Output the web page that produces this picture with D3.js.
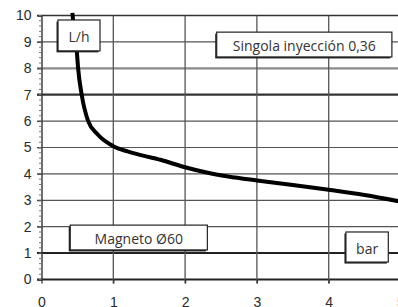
<!DOCTYPE html>
<html><head><meta charset="utf-8">
<script src="https://cdn.jsdelivr.net/npm/d3@7"></script>
<style>html,body{margin:0;padding:0;background:#fff;overflow:hidden}</style>
</head><body><svg id="c" width="398" height="307"></svg>
<script>
const pressure = [0.43, 0.46, 0.49, 0.51, 0.56, 0.65, 0.78, 1.0, 1.2, 1.4, 1.7, 2.0, 2.3, 2.6, 3.0, 3.5, 4.0, 4.5, 5.0];
const flow     = [10.1, 9.3, 8.7, 8.0, 7.0, 6.0, 5.5, 5.05, 4.85, 4.7, 4.5, 4.25, 4.05, 3.9, 3.75, 3.58, 3.4, 3.2, 2.95];
const xTicks = [0, 1, 2, 3, 4, 5];
const yTicks = [0, 1, 2, 3, 4, 5, 6, 7, 8, 9, 10];
const yMinor = d3.range(0, 10.01, 0.2);
const labelTexts = ["L/h", "Singola inyección 0,36", "Magneto Ø60", "bar"];
// box extents in data units: [x0, x1, yTop, yBottom]
const labelBoxes = [
  [0.23, 0.815, 9.83, 8.66],
  [2.44, 4.88, 9.37, 8.43],
  [0.40, 2.31, 2.06, 1.12],
  [4.24, 4.83, 1.80, 0.66]
];

const svg = d3.select("#c");
const x = d3.scaleLinear().domain([0, 5]).range([41.5, 400.5]);
const y = d3.scaleLinear().domain([0, 10]).range([279.5, 15.5]);

// horizontal grid
const strong = {10: ["#333", 1.6], 8: ["#8a8a8a", 2.2], 7: ["#333", 2.2], 1: ["#222", 2], 0: ["#222", 1.8]};
svg.append("g").selectAll("line").data(yTicks).join("line")
  .attr("x1", 37).attr("x2", 398)
  .attr("y1", d => y(d)).attr("y2", d => y(d))
  .attr("stroke", d => strong[d] ? strong[d][0] : "#555")
  .attr("stroke-width", d => strong[d] ? strong[d][1] : 1.2);

// vertical grid
svg.append("g").selectAll("line").data(xTicks.filter(d => d > 0)).join("line")
  .attr("x1", d => x(d)).attr("x2", d => x(d))
  .attr("y1", y(10)).attr("y2", y(0) + 4)
  .attr("stroke", "#555").attr("stroke-width", 1.3);

// y axis
const ya = svg.append("g").attr("transform", `translate(${x(0)},0)`)
  .call(d3.axisLeft(y).tickValues(yTicks).tickSize(4).tickPadding(6).tickFormat(d3.format("d")));
ya.select(".domain").attr("stroke", "#333").attr("stroke-width", 1.4);
ya.selectAll(".tick line").attr("stroke", "#333");
ya.selectAll("text").attr("font-family", "Liberation Sans, Arial, sans-serif").attr("font-size", 14).attr("fill", "#2a2a2a");
svg.append("g").selectAll("line").data(yMinor).join("line")
  .attr("x1", x(0) - 2.5).attr("x2", x(0))
  .attr("y1", d => y(d)).attr("y2", d => y(d))
  .attr("stroke", "#777").attr("stroke-width", 1);

// x axis
const xa = svg.append("g").attr("transform", `translate(0,${y(0)})`)
  .call(d3.axisBottom(x).tickValues(xTicks).tickSize(4).tickPadding(14).tickFormat(d3.format("d")));
xa.select(".domain").remove();
xa.selectAll(".tick line").attr("stroke", "#333").attr("stroke-width", 1.3);
xa.selectAll("text").attr("font-family", "Liberation Sans, Arial, sans-serif").attr("font-size", 14).attr("fill", "#2a2a2a");

// curve
const pts = pressure.map((p, i) => [p, flow[i]]);
svg.append("path").datum(pts)
  .attr("fill", "none").attr("stroke", "#000").attr("stroke-width", 4)
  .attr("stroke-linejoin", "round")
  .attr("d", d3.line().x(d => x(d[0])).y(d => y(d[1])).curve(d3.curveMonotoneX));

// annotation boxes
const boxes = svg.append("g").selectAll("g").data(labelTexts).join("g");
boxes.each(function(txt, i) {
  const g = d3.select(this);
  const [bx0, bx1, byt, byb] = labelBoxes[i];
  const X0 = x(bx0), X1 = x(bx1), Y0 = y(byt), Y1 = y(byb);
  g.append("rect").attr("x", X0 - 1.5).attr("y", Y0 + 1.5)
    .attr("width", X1 - X0).attr("height", Y1 - Y0).attr("fill", "#222");
  g.append("rect").attr("x", X0).attr("y", Y0)
    .attr("width", X1 - X0).attr("height", Y1 - Y0)
    .attr("fill", "#fff").attr("stroke", "#222").attr("stroke-width", 1.2);
  g.append("text").attr("x", (X0 + X1) / 2).attr("y", (Y0 + Y1) / 2 + 1)
    .attr("text-anchor", "middle").attr("dominant-baseline", "central")
    .attr("font-family", "Open Sans, sans-serif").attr("font-size", 14).attr("fill", "#333")
    .text(txt);
});
</script></body></html>
